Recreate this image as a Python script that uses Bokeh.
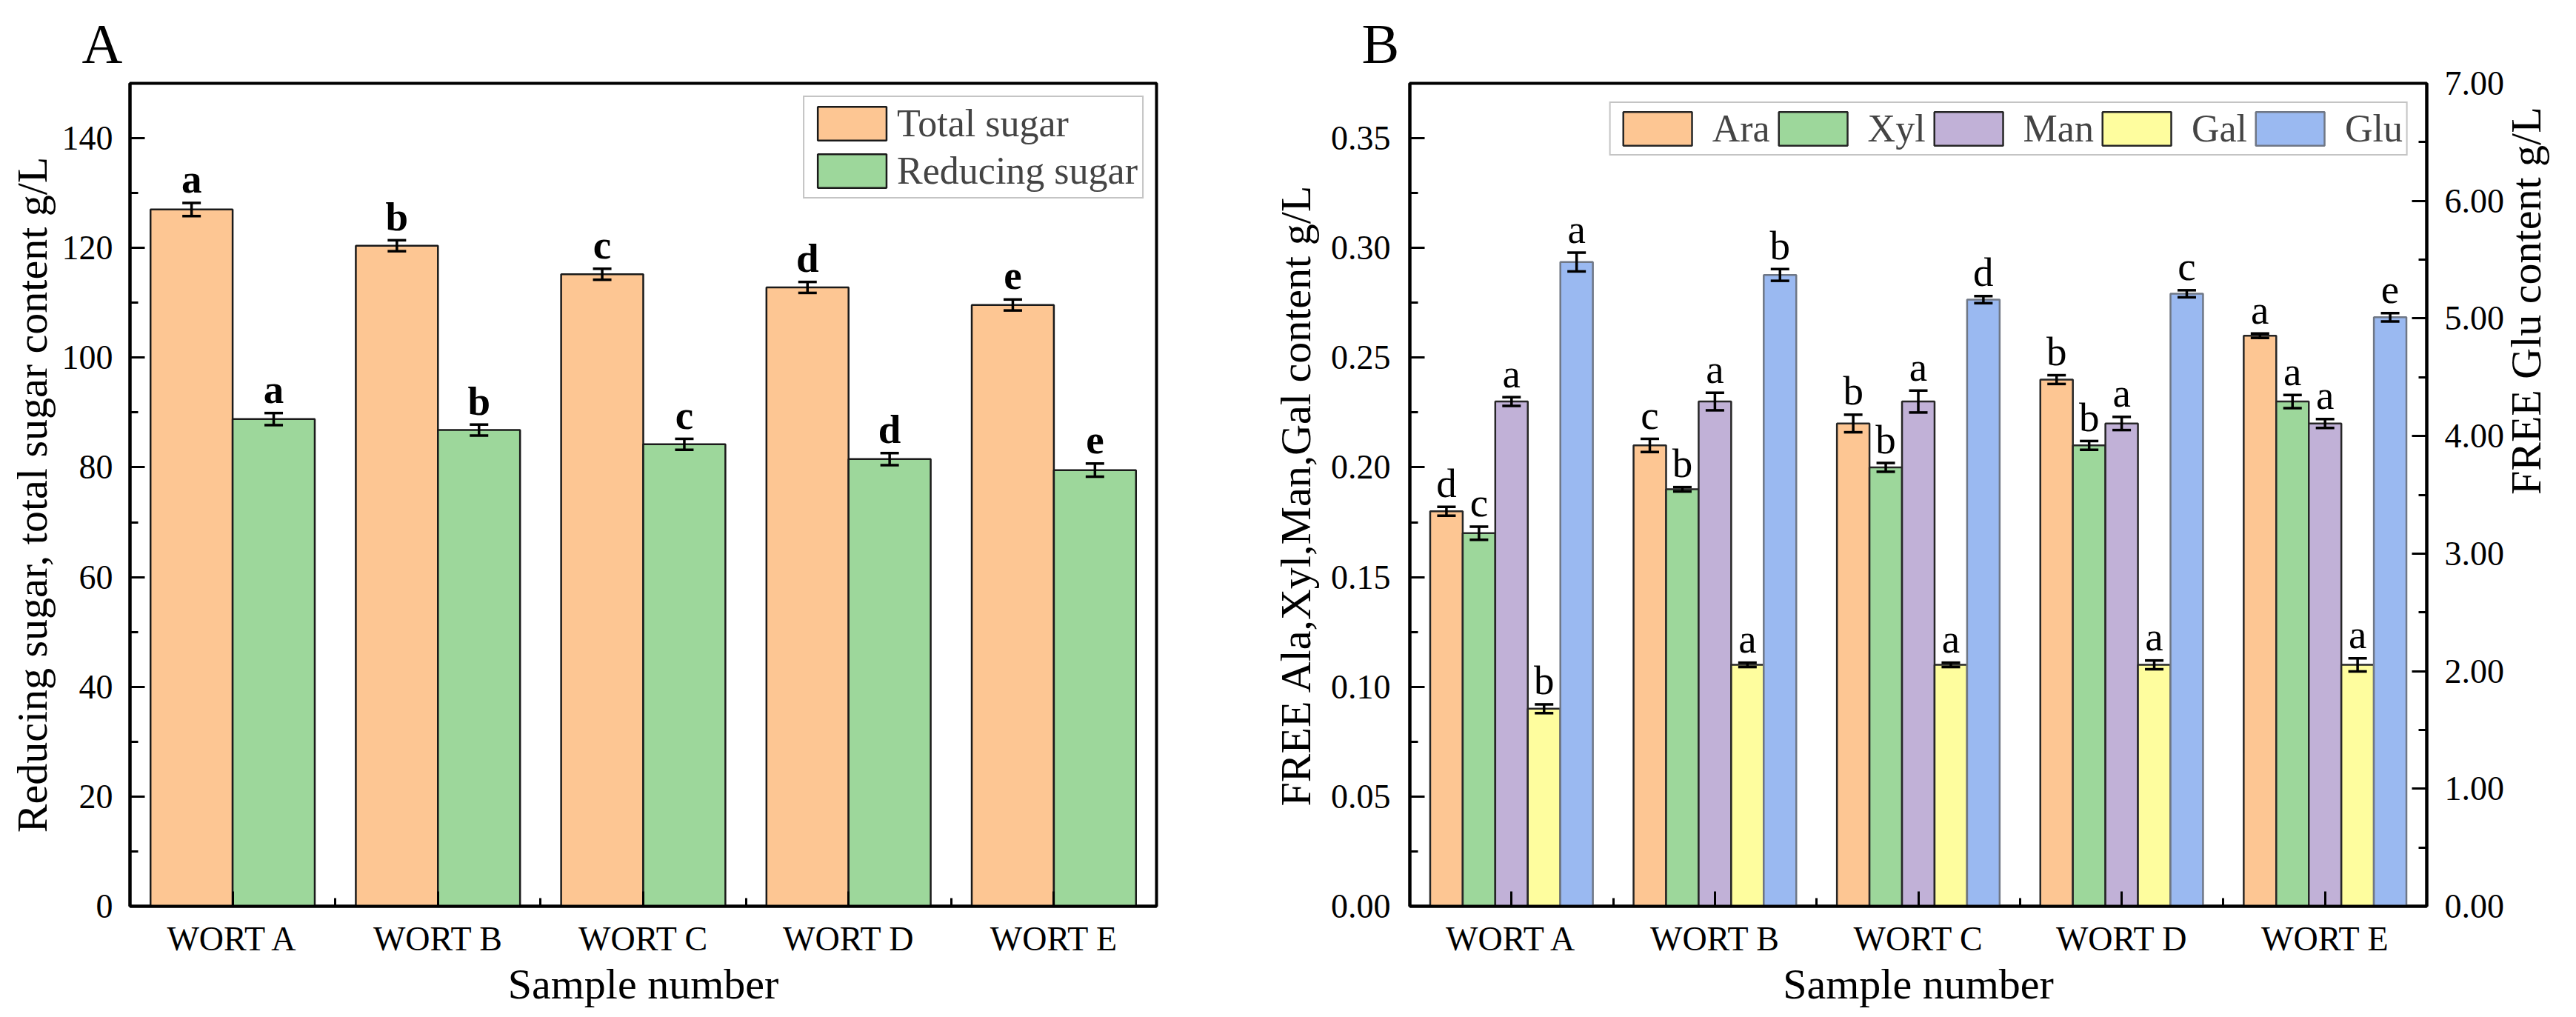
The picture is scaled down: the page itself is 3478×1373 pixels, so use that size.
import math
import numpy as np
from bokeh.plotting import figure
from bokeh.models import (ColumnDataSource, Range1d, LinearAxis, FixedTicker,
                          SingleIntervalTicker, NumeralTickFormatter)
from bokeh.layouts import row
from bokeh.embed import file_html
from bokeh.resources import INLINE
from bokeh.core.properties import value

# ---------------- data ----------------
samples = ["WORT A", "WORT B", "WORT C", "WORT D", "WORT E"]

# Panel A (g/L)
total_sugar = [127.0, 120.4, 115.2, 112.8, 109.6]
total_sugar_err = [1.2, 1.0, 1.0, 1.0, 1.0]
total_sugar_sig = ["a", "b", "c", "d", "e"]
reducing_sugar = [88.8, 86.8, 84.2, 81.5, 79.5]
reducing_sugar_err = [1.1, 1.0, 1.0, 1.1, 1.2]
reducing_sugar_sig = ["a", "b", "c", "d", "e"]

# Panel B (g/L) - left axis
ara = [0.18, 0.21, 0.22, 0.24, 0.26]
ara_err = [0.002, 0.003, 0.004, 0.002, 0.001]
ara_sig = ["d", "c", "b", "b", "a"]
xyl = [0.17, 0.19, 0.20, 0.21, 0.23]
xyl_err = [0.003, 0.001, 0.002, 0.002, 0.003]
xyl_sig = ["c", "b", "b", "b", "a"]
man = [0.23, 0.23, 0.23, 0.22, 0.22]
man_err = [0.002, 0.004, 0.005, 0.003, 0.002]
man_sig = ["a", "a", "a", "a", "a"]
gal = [0.09, 0.11, 0.11, 0.11, 0.11]
gal_err = [0.002, 0.001, 0.001, 0.002, 0.003]
gal_sig = ["b", "a", "a", "a", "a"]
# Panel B - right axis
glu = [5.48, 5.37, 5.16, 5.21, 5.01]
glu_err = [0.08, 0.05, 0.03, 0.03, 0.035]
glu_sig = ["a", "b", "d", "c", "e"]

# ---------------- style ----------------
FONT = "Liberation Serif"
C_ORANGE = "#FDC693"
C_GREEN = "#9DD79B"
C_PURPLE = "#C1B1D7"
C_YELLOW = "#FEFD9E"
C_BLUE = "#9AB9F1"

pos = np.arange(1, len(samples) + 1)


def style_axis(ax, label_standoff, axis_label_standoff):
    ax.axis_line_width = 4
    ax.axis_line_color = "black"
    ax.major_tick_in = 20
    ax.major_tick_out = 0
    ax.minor_tick_in = 11
    ax.minor_tick_out = 0
    ax.major_tick_line_width = 3
    ax.minor_tick_line_width = 3
    ax.major_tick_line_color = "black"
    ax.minor_tick_line_color = "black"
    ax.major_label_text_font = FONT
    ax.major_label_text_font_size = "46px"
    ax.major_label_text_color = "black"
    ax.major_label_standoff = label_standoff
    ax.axis_label_text_font = FONT
    ax.axis_label_text_font_size = "58px"
    ax.axis_label_text_font_style = "normal"
    ax.axis_label_text_color = "black"
    ax.axis_label_standoff = axis_label_standoff


def base_fig(width, y_range, mb_left, mb_right, panel_title):
    p = figure(width=width, height=1373, output_backend="svg", toolbar_location=None,
               x_range=Range1d(0.5, 5.5), y_range=y_range,
               min_border_left=mb_left, min_border_right=mb_right,
               min_border_top=112, min_border_bottom=150)
    p.grid.visible = False
    p.outline_line_color = "black"
    p.outline_line_width = 4
    p.outline_line_alpha = 1.0
    p.background_fill_color = "white"
    p.border_fill_color = "white"
    p.title.text = panel_title
    p.title.text_font = FONT
    p.title.text_font_size = "76px"
    p.title.text_font_style = "normal"
    p.title.text_color = "black"
    p.title.align = "left"
    p.title.offset = -65
    p.title.standoff = 24
    p.xaxis.ticker = FixedTicker(ticks=list(pos), minor_ticks=[1.5, 2.5, 3.5, 4.5])
    p.xaxis.major_label_overrides = {int(i): s for i, s in zip(pos, samples)}
    p.xaxis.axis_label = "Sample number"
    style_axis(p.xaxis[0], 18, 0)
    return p


def add_series(p, x, vals, errs, sig, width, color, legend, line_color="#262626",
               bold=False, font_size="55px", y_range_name="default"):
    src = ColumnDataSource(dict(x=x, top=vals,
                                upper=[v + e for v, e in zip(vals, errs)],
                                lower=[v - e for v, e in zip(vals, errs)],
                                sig=sig))
    p.vbar(x="x", top="top", width=width, source=src, fill_color=color,
           line_color=line_color, line_width=2.5, legend_label=legend,
           y_range_name=y_range_name)
    # error bars: stem + caps
    p.segment(x0="x", y0="lower", x1="x", y1="upper", source=src,
              line_width=3.5, line_color="black", y_range_name=y_range_name)
    p.scatter(x="x", y="upper", source=src, marker="dash", size=25,
              line_width=3.5, line_color="black", y_range_name=y_range_name)
    p.scatter(x="x", y="lower", source=src, marker="dash", size=25,
              line_width=3.5, line_color="black", y_range_name=y_range_name)
    p.text(x="x", y="upper", text="sig", source=src, text_font=value(FONT),
           text_font_size=font_size, text_align="center", text_baseline="alphabetic",
           text_font_style="bold" if bold else "normal", text_color="black",
           y_offset=-32, y_range_name=y_range_name)


# ---------------- panel A ----------------
p1 = base_fig(1688, Range1d(0, 150), 175, 127, "A")
p1.yaxis.ticker = SingleIntervalTicker(interval=20, num_minor_ticks=2)
p1.yaxis.axis_label = "Reducing sugar, total sugar content g/L"
style_axis(p1.yaxis[0], 23, 5)

add_series(p1, pos - 0.2, total_sugar, total_sugar_err, total_sugar_sig, 0.4,
           C_ORANGE, "Total sugar", line_color="#1a1a1a", bold=True)
add_series(p1, pos + 0.2, reducing_sugar, reducing_sugar_err, reducing_sugar_sig, 0.4,
           C_GREEN, "Reducing sugar", line_color="#1a1a1a", bold=True)

lg = p1.legend[0]
lg.location = "top_right"
lg.margin = 17
lg.padding = 6
lg.spacing = 5
lg.label_standoff = 3
lg.glyph_width = 116
lg.glyph_height = 57
lg.label_text_font = FONT
lg.label_text_font_size = "52px"
lg.border_line_color = "#8a8a8a"
lg.border_line_width = 2
lg.background_fill_color = "white"
lg.background_fill_alpha = 1.0

# ---------------- panel B ----------------
p2 = base_fig(1790, Range1d(0, 0.375), 215, 192, "B")
p2.yaxis.ticker = SingleIntervalTicker(interval=0.05, num_minor_ticks=2)
p2.yaxis.formatter = NumeralTickFormatter(format="0.00")
p2.yaxis.axis_label = "FREE Ala,Xyl,Man,Gal content g/L"
style_axis(p2.yaxis[0], 26, 12)

p2.extra_y_ranges = {"glu": Range1d(0, 7)}
ax_r = LinearAxis(y_range_name="glu", axis_label="FREE Glu content g/L",
                  ticker=SingleIntervalTicker(interval=1, num_minor_ticks=2),
                  formatter=NumeralTickFormatter(format="0.00"))
style_axis(ax_r, 24, 26)
ax_r.axis_label_orientation = math.pi / 2
p2.add_layout(ax_r, "right")

bw = 0.16
add_series(p2, pos - 2 * bw, ara, ara_err, ara_sig, bw, C_ORANGE, "Ara")
add_series(p2, pos - bw, xyl, xyl_err, xyl_sig, bw, C_GREEN, "Xyl")
add_series(p2, pos, man, man_err, man_sig, bw, C_PURPLE, "Man")
add_series(p2, pos + bw, gal, gal_err, gal_sig, bw, C_YELLOW, "Gal")
add_series(p2, pos + 2 * bw, glu, glu_err, glu_sig, bw, C_BLUE, "Glu",
           line_color="#6f7785", y_range_name="glu")

lg2 = p2.legend[0]
lg2.location = "top_right"
lg2.orientation = "horizontal"
lg2.margin = 25
lg2.padding = 5
lg2.spacing = 0
lg2.label_standoff = 16
lg2.glyph_width = 116
lg2.glyph_height = 57
lg2.label_text_font = FONT
lg2.label_text_font_size = "52px"
lg2.border_line_color = "#8a8a8a"
lg2.border_line_width = 2
lg2.background_fill_color = "white"
lg2.background_fill_alpha = 1.0

layout = row(p1, p2)
open("out.html", "w").write(file_html(layout, INLINE))
